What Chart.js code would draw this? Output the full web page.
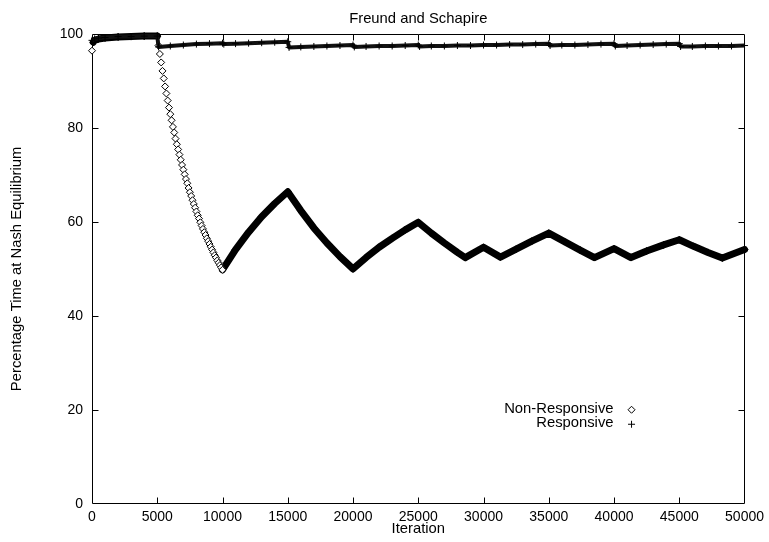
<!DOCTYPE html>
<html>
<head>
<meta charset="utf-8">
<title>Freund and Schapire</title>
<script src="https://cdn.jsdelivr.net/npm/chart.js@4.4.1/dist/chart.umd.min.js"></script>
<style>
  html, body { margin: 0; padding: 0; background: #fff; }
  canvas { display: block; }
</style>
</head>
<body>
<canvas id="chart" width="769" height="542"></canvas>
<script>
// --- DATA ---
const xTicks = [0, 5000, 10000, 15000, 20000, 25000, 30000, 35000, 40000, 45000, 50000];
const yTicks = [0, 20, 40, 60, 80, 100];

// Non-Responsive (diamonds)
const nrIter = [
  0, 100, 200, 500, 1000, 2000, 3000, 4000, 5000,
  5100, 5200, 5300, 5400, 5500, 5600, 5700, 5800, 5900, 6000,
  6100, 6200, 6300, 6400, 6500, 6600, 6700, 6800, 6900, 7000,
  7100, 7200, 7300, 7400, 7500, 7600, 7700, 7800, 7900, 8000,
  8100, 8200, 8300, 8400, 8500, 8600, 8700, 8800, 8900, 9000,
  9100, 9200, 9300, 9400, 9500, 9600, 9700, 9800, 9900, 10000,
  11000, 12000, 13000, 14000, 15000, 16000, 17000, 18000, 19000, 20000,
  21000, 22000, 23000, 24000, 25000, 26000, 27000, 28000, 28600, 30000,
  31300, 32500, 33700, 35000, 36200, 37400, 38500, 40000, 41300, 42500,
  43800, 45000, 46100, 47200, 48300, 50000
];
const nrPct = [
  96.4, 98.2, 98.6, 98.9, 99.1, 99.3, 99.4, 99.5, 99.5,
  97.5, 95.7, 93.9, 92.1, 90.5, 88.8, 87.3, 85.8, 84.3, 82.9,
  81.6, 80.2, 79.0, 77.7, 76.5, 75.4, 74.3, 73.2, 72.1, 71.1,
  70.1, 69.1, 68.2, 67.2, 66.3, 65.5, 64.6, 63.8, 63.0, 62.2,
  61.4, 60.7, 59.9, 59.2, 58.5, 57.8, 57.2, 56.5, 55.9, 55.3,
  54.7, 54.1, 53.5, 52.9, 52.4, 51.8, 51.3, 50.8, 50.3, 49.8,
  54.1, 57.8, 61.1, 63.9, 66.4, 62.4, 58.7, 55.5, 52.6, 50.0,
  52.4, 54.6, 56.5, 58.3, 59.9, 57.6, 55.5, 53.5, 52.4, 54.6,
  52.5, 54.2, 55.9, 57.6, 55.8, 54.0, 52.4, 54.3, 52.4, 53.8,
  55.1, 56.2, 54.8, 53.5, 52.3, 54.1
];

// Responsive (plus signs)
const respIter = [
  0, 200, 500, 1000, 2000, 3000, 4000, 5000,
  5100, 6000, 7000, 8000, 9000, 10000,
  10100, 11000, 12000, 13000, 14000, 15000,
  15100, 16000, 17000, 18000, 19000, 20000,
  20100, 21000, 22000, 23000, 24000, 25000,
  25100, 26000, 27000, 28000, 29000, 30000, 31000, 32000, 33000, 34000, 35000,
  35100, 36000, 37000, 38000, 39000, 40000,
  40100, 41000, 42000, 43000, 44000, 45000,
  45100, 46000, 47000, 48000, 49000, 50000
];
const respPct = [
  98.6, 98.9, 99.1, 99.2, 99.4, 99.4, 99.5, 99.5,
  97.2, 97.4, 97.6, 97.8, 97.9, 98.0,
  97.8, 97.9, 98.0, 98.1, 98.2, 98.3,
  97.1, 97.2, 97.3, 97.4, 97.5, 97.6,
  97.2, 97.3, 97.4, 97.4, 97.5, 97.6,
  97.3, 97.4, 97.4, 97.5, 97.5, 97.6, 97.6, 97.7, 97.7, 97.8, 97.9,
  97.5, 97.6, 97.6, 97.7, 97.8, 97.9,
  97.4, 97.5, 97.6, 97.7, 97.8, 97.9,
  97.3, 97.3, 97.4, 97.4, 97.4, 97.5
];

const FONT = '"Liberation Sans", Arial, Helvetica, sans-serif';
Chart.defaults.font.family = FONT;
Chart.defaults.color = '#000';

// --- gnuplot style frame with inward ticks on all four sides ---
const frameTicks = {
  id: 'frameTicks',
  beforeDatasetsDraw(chart) {
    const { ctx, chartArea: a, scales: { x, y } } = chart;
    const L = Math.round(a.left) + 0.5, R = Math.round(a.right) - 0.5;
    const T = Math.round(a.top) + 0.5, B = Math.round(a.bottom) - 0.5;
    const len = 6;
    ctx.save();
    ctx.strokeStyle = '#000';
    ctx.lineWidth = 1;
    ctx.beginPath();
    ctx.rect(L, T, R - L, B - T);
    xTicks.slice(1, -1).forEach(v => {
      const px = Math.round(x.getPixelForValue(v)) + 0.5;
      ctx.moveTo(px, B); ctx.lineTo(px, B - len);
      ctx.moveTo(px, T); ctx.lineTo(px, T + len);
    });
    yTicks.slice(1, -1).forEach(v => {
      const py = Math.round(y.getPixelForValue(v)) + 0.5;
      ctx.moveTo(L, py); ctx.lineTo(L + len, py);
      ctx.moveTo(R, py); ctx.lineTo(R - len, py);
    });
    ctx.stroke();
    ctx.restore();
  }
};

// --- key inside the plot, text left of the symbol ---
const insideKey = {
  id: 'insideKey',
  afterDraw(chart) {
    const { ctx, chartArea: a } = chart;
    const textX = a.right - 131, symX = a.right - 113;
    let rowY = a.top + 375;
    ctx.save();
    ctx.font = '14.8px ' + FONT;
    ctx.textAlign = 'right';
    ctx.textBaseline = 'middle';
    chart.data.datasets.forEach(ds => {
      ctx.fillStyle = '#000';
      ctx.fillText(ds.label, textX, rowY);
      ctx.fillStyle = '#fff';
      ctx.strokeStyle = '#000';
      ctx.lineWidth = 1;
      Chart.helpers.drawPoint(ctx, { pointStyle: ds.pointStyle, radius: 3.5, borderWidth: 1, rotation: 0 }, symX, rowY + 1);
      rowY += 14.5;
    });
    ctx.restore();
  }
};

new Chart(document.getElementById('chart'), {
  type: 'line',
  data: {
    datasets: [
      {
        label: 'Non-Responsive',
        data: nrIter.map((it, i) => ({ x: it, y: nrPct[i] })),
        borderColor: '#000',
        borderWidth: 7,
        borderJoinStyle: 'round',
        borderCapStyle: 'round',
        segment: {
          borderColor: ctx => {
            const a = nrIter[ctx.p0DataIndex], b = nrIter[ctx.p1DataIndex];
            return (a >= 100 && b <= 5000) || a >= 10000 ? '#000' : 'rgba(0,0,0,0)';
          }
        },
        pointStyle: 'rectRot',
        pointRadius: 3.5,
        pointBorderWidth: 1,
        pointBorderColor: '#000',
        pointBackgroundColor: ctx => {
          const it = nrIter[ctx.dataIndex];
          return it === 0 || (it > 5000 && it <= 10000) ? '#fff' : '#000';
        },
        clip: false,
        order: 2
      },
      {
        label: 'Responsive',
        data: respIter.map((it, i) => ({ x: it, y: respPct[i] })),
        borderColor: '#111',
        borderWidth: 4,
        borderJoinStyle: 'round',
        pointStyle: 'cross',
        pointRadius: 3.5,
        pointBorderWidth: 1,
        pointBorderColor: '#000',
        clip: false,
        order: 1
      }
    ]
  },
  options: {
    responsive: false,
    animation: false,
    devicePixelRatio: 1,
    events: [],
    layout: { padding: { left: 0, right: 23, top: 0, bottom: 0 } },
    plugins: {
      legend: { display: false },
      tooltip: { enabled: false },
      title: {
        display: true,
        text: 'Freund and Schapire',
        fullSize: false,
        color: '#000',
        font: { size: 14.8, weight: 'normal' },
        padding: { top: 10, bottom: 6 }
      }
    },
    scales: {
      x: {
        type: 'linear',
        min: 0,
        max: 50000,
        afterFit: s => { s.height = 38; },
        afterBuildTicks: s => { s.ticks = xTicks.map(v => ({ value: v })); },
        grid: { display: false, drawTicks: false },
        border: { display: false },
        ticks: {
          autoSkip: false,
          maxRotation: 0,
          padding: 5,
          color: '#000',
          font: { size: 14 },
          callback: v => String(v)
        },
        title: {
          display: true,
          text: 'Iteration',
          color: '#000',
          font: { size: 14.8 },
          padding: { top: 0, bottom: 4 }
        }
      },
      y: {
        type: 'linear',
        min: 0,
        max: 100,
        afterFit: s => { s.width = 92; },
        afterBuildTicks: s => { s.ticks = yTicks.map(v => ({ value: v })); },
        grid: { display: false, drawTicks: false },
        border: { display: false },
        ticks: {
          padding: 9,
          color: '#000',
          font: { size: 14 },
          callback: v => String(v)
        },
        title: {
          display: true,
          text: 'Percentage Time at Nash Equilibrium',
          color: '#000',
          font: { size: 14.8 },
          padding: { top: 8, bottom: 0 }
        }
      }
    }
  },
  plugins: [frameTicks, insideKey]
});
</script>
</body>
</html>
